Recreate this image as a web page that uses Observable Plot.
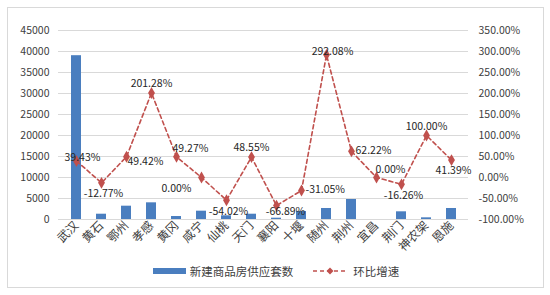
<!DOCTYPE html>
<html>
<head>
<meta charset="utf-8">
<script src="https://cdn.jsdelivr.net/npm/d3@7"></script>
<script src="https://cdn.jsdelivr.net/npm/@observablehq/plot@0.6"></script>
<style>
  html, body { margin: 0; padding: 0; background: #fff; }
  #wrap { position: relative; width: 550px; height: 295px; font-family: "Noto Sans CJK SC", sans-serif; }
  #frame { position: absolute; left: 7px; top: 7px; width: 535px; height: 279px; border: 1px solid #d9d9d9; pointer-events: none; }
  #legend { position: absolute; left: 0; top: 263px; width: 550px; display: flex; justify-content: center; align-items: center; font-size: 11.5px; color: #404040; }
  #legend .item { display: flex; align-items: center; }
  #legend svg { display: block; }
</style>
</head>
<body>
<div id="wrap">
  <div id="chart"></div>
  <div id="legend"></div>
  <div id="frame"></div>
</div>
<script>
const categories = ["武汉","黄石","鄂州","孝感","黄冈","咸宁","仙桃","天门","襄阳","十堰","随州","荆州","宜昌","荆门","神农架","恩施"];
const supply = [39000, 1260, 3170, 3970, 710, 1980, 880, 1260, 310, 1900, 2620, 4760, 0, 1830, 400, 2620];
const growth = [39.43, -12.77, 49.42, 201.28, 49.27, 0.00, -54.02, 48.55, -66.89, -31.05, 292.08, 62.22, 0.00, -16.26, 100.00, 41.39];
const leftTicks = [0, 5000, 10000, 15000, 20000, 25000, 30000, 35000, 40000, 45000];
const rightTicks = [-100, -50, 0, 50, 100, 150, 200, 250, 300, 350];
const seriesNames = ["新建商品房供应套数", "环比增速"];
// label placement keywords (style only)
const labelPlace = ["c","b","rb","t","tr","bl","b","t","br","r","c","r","tr","b","t","b"];

const barColor = "#4a7ebf";
const lineColor = "#c0504d";
const textColor = "#404040";
const font = "'Noto Sans CJK SC', sans-serif";

// map percentage onto the count axis: -100% -> 0, 350% -> 45000
const toY = p => (p + 100) * 100;
const fromY = v => v / 100 - 100;

const data = categories.map((c, i) => ({cat: c, supply: supply[i], growth: growth[i], gy: toY(growth[i]), place: labelPlace[i]}));

const places = {
  c:  {dx: 6,   dy: -3, textAnchor: "middle"},
  b:  {dx: 2,   dy: 11, textAnchor: "middle"},
  t:  {dx: 0,   dy: -9, textAnchor: "middle"},
  r:  {dx: 4,   dy: -1, textAnchor: "start"},
  rb: {dx: 1,   dy: 5,  textAnchor: "start"},
  tr: {dx: 14,  dy: -8, textAnchor: "middle"},
  bl: {dx: -25, dy: 11, textAnchor: "middle"},
  br: {dx: 9,   dy: 6,  textAnchor: "middle"}
};

const fmtPct = p => p.toFixed(2) + "%";

const labelMarks = Object.entries(places).map(([k, o]) =>
  Plot.text(data.filter(d => d.place === k), {
    x: "cat", y: "gy", text: d => fmtPct(d.growth),
    dx: o.dx, dy: o.dy, textAnchor: o.textAnchor,
    fill: "#262626", fontSize: 10.5
  })
);

const chart = Plot.plot({
  width: 550,
  height: 258,
  marginLeft: 58,
  marginRight: 82,
  marginTop: 30,
  marginBottom: 39,
  style: {fontFamily: font, background: "transparent"},
  x: {domain: categories, paddingInner: 0.6, paddingOuter: 0.3},
  y: {domain: [0, 45000]},
  marks: [
    Plot.gridY(leftTicks, {stroke: "#d9d9d9", strokeOpacity: 1}),
    Plot.barY(data, {x: "cat", y: "supply", fill: barColor}),
    Plot.axisY(leftTicks, {anchor: "left", tickSize: 0, tickPadding: 9, tickFormat: d => String(d), label: null, fontSize: 10.5, fill: textColor}),
    Plot.axisY(rightTicks.map(toY), {anchor: "right", tickSize: 0, tickPadding: 10, tickFormat: v => fmtPct(fromY(v)), label: null, fontSize: 10.5, fill: textColor}),
    Plot.axisX({tickRotate: -45, tickSize: 0, tickPadding: 4, label: null, fontSize: 12, fill: textColor}),
    Plot.line(data, {x: "cat", y: "gy", stroke: lineColor, strokeWidth: 1.6, strokeDasharray: "4,3"}),
    Plot.dot(data, {x: "cat", y: "gy", symbol: "diamond", r: 3.6, fill: lineColor}),
    ...labelMarks
  ]
});
document.getElementById("chart").appendChild(chart);

// legend
const legend = document.getElementById("legend");
legend.innerHTML = `
  <div class="item"><svg width="38" height="8"><rect x="2" y="1" width="33" height="6" fill="${barColor}"></rect></svg><span style="margin-left:1px">${seriesNames[0]}</span></div>
  <div class="item" style="margin-left:18px"><svg width="38" height="10"><line x1="2" y1="5" x2="36" y2="5" stroke="${lineColor}" stroke-width="1.6" stroke-dasharray="4,3"></line><path d="M19,1.5 L22.5,5 L19,8.5 L15.5,5 Z" fill="${lineColor}"></path></svg><span style="margin-left:4px">${seriesNames[1]}</span></div>
`;
</script>
</body>
</html>
